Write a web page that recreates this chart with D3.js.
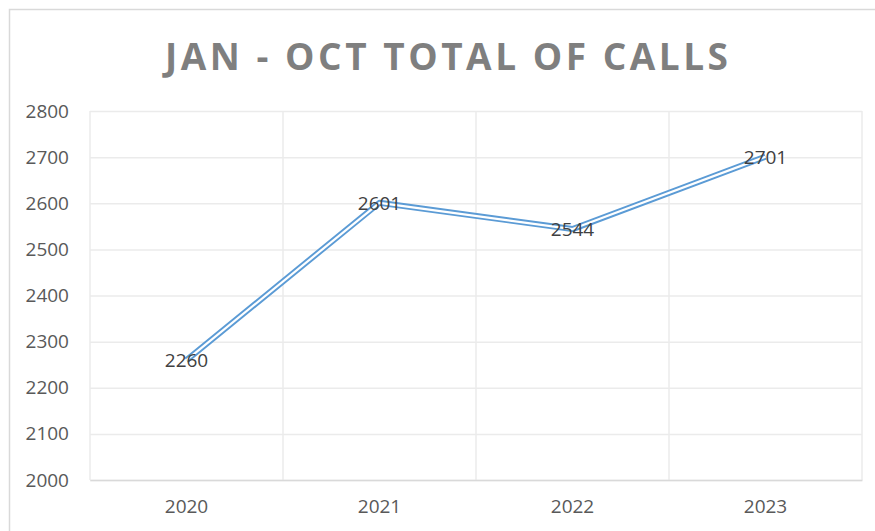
<!DOCTYPE html>
<html>
<head>
<meta charset="utf-8">
<script src="https://cdn.jsdelivr.net/npm/d3@7"></script>
<style>
  body { margin: 0; background: #fff; }
  svg text { font-family: "Open Sans", "Noto Sans", sans-serif; }
</style>
</head>
<body>
<div id="chart"></div>
<script>
const years = ['2020', '2021', '2022', '2023'];
const calls = [2260, 2601, 2544, 2701];
const yTicks = [2000, 2100, 2200, 2300, 2400, 2500, 2600, 2700, 2800];
const title = 'JAN - OCT TOTAL OF CALLS';

const width = 875;
const height = 531;
const margin = { top: 111, right: 13, bottom: 51, left: 90 };
const innerWidth = width - margin.left - margin.right;
const innerHeight = height - margin.top - margin.bottom;

const svg = d3.select('#chart')
  .append('svg')
  .attr('width', width)
  .attr('height', height);

// chart frame (only top + left edges visible in the crop)
svg.append('path')
  .attr('d', `M9.5,${height} V9.5 H${width}`)
  .attr('fill', 'none')
  .attr('stroke', '#d9d9d9')
  .attr('stroke-width', 1.5);

svg.append('text')
  .attr('x', 446.5)
  .attr('y', 70)
  .attr('text-anchor', 'middle')
  .attr('font-size', 37)
  .attr('font-weight', 700)
  .attr('fill', '#7f7f7f')
  .attr('textLength', 563)
  .attr('lengthAdjust', 'spacing')
  .text(title);

const g = svg.append('g')
  .attr('transform', `translate(${margin.left},${margin.top})`);

const x = d3.scaleBand().domain(years).range([0, innerWidth]);
const y = d3.scaleLinear().domain([2000, 2800]).range([innerHeight, 0]);

// horizontal gridlines + y labels
const yAxis = d3.axisLeft(y)
  .tickValues(yTicks)
  .tickSize(-innerWidth)
  .tickPadding(21)
  .tickFormat(d3.format('d'));

g.append('g')
  .attr('class', 'y-axis')
  .call(yAxis)
  .call(sel => sel.select('.domain').remove())
  .call(sel => sel.selectAll('.tick line').attr('stroke', '#ebebeb').attr('stroke-width', 1.5))
  .call(sel => sel.selectAll('.tick text')
    .attr('fill', '#595959')
    .attr('font-size', 19));

// vertical gridlines at category boundaries
const bounds = years.map(d => x(d)).concat([x(years[years.length - 1]) + x.bandwidth()]);
g.selectAll('.vgrid')
  .data(bounds)
  .enter()
  .append('line')
  .attr('class', 'vgrid')
  .attr('x1', d => d)
  .attr('x2', d => d)
  .attr('y1', 0)
  .attr('y2', innerHeight)
  .attr('stroke', '#ebebeb')
  .attr('stroke-width', 1.5);

// x axis
const xAxis = d3.axisBottom(x).tickSize(0).tickPadding(20);
g.append('g')
  .attr('class', 'x-axis')
  .attr('transform', `translate(0,${innerHeight})`)
  .call(xAxis)
  .call(sel => sel.select('.domain').attr('stroke', '#d9d9d9').attr('stroke-width', 1.5))
  .call(sel => sel.selectAll('.tick text')
    .attr('fill', '#595959')
    .attr('font-size', 19));

const data = years.map((d, i) => ({ year: d, value: calls[i] }));

const line = d3.line()
  .x(d => x(d.year) + x.bandwidth() / 2)
  .y(d => y(d.value));

// double line: blue outer stroke with a white core
g.append('path')
  .datum(data)
  .attr('d', line)
  .attr('fill', 'none')
  .attr('stroke', '#5b9bd5')
  .attr('stroke-width', 6)
  .attr('stroke-linejoin', 'round');

g.append('path')
  .datum(data)
  .attr('d', line)
  .attr('fill', 'none')
  .attr('stroke', '#fff')
  .attr('stroke-width', 2.2)
  .attr('stroke-linejoin', 'round');

g.selectAll('.label')
  .data(data)
  .enter()
  .append('text')
  .attr('class', 'label')
  .attr('x', d => x(d.year) + x.bandwidth() / 2)
  .attr('y', d => y(d.value))
  .attr('dy', '0.36em')
  .attr('text-anchor', 'middle')
  .attr('fill', '#404040')
  .attr('font-size', 19)
  .text(d => d.value);
</script>
</body>
</html>
